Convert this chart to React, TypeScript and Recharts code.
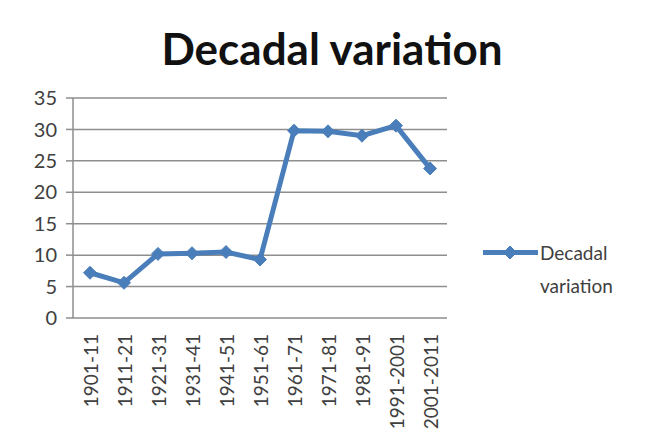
import { LineChart, Line, XAxis, YAxis, CartesianGrid, Legend } from 'recharts'

const periods = [
    '1901-11',
    '1911-21',
    '1921-31',
    '1931-41',
    '1941-51',
    '1951-61',
    '1961-71',
    '1971-81',
    '1981-91',
    '1991-2001',
    '2001-2011'
]
const variation = [7.2, 5.6, 10.2, 10.3, 10.5, 9.3, 29.8, 29.7, 29.0, 30.6, 23.8]
const yTicks = [0, 5, 10, 15, 20, 25, 30, 35]
const edgeTicks = [0, 1, 2, 3, 4, 5, 6, 7, 8, 9, 10, 11]

const data = periods.map((period, i) => ({ period, variation: variation[i] }))

const BLUE = '#4a7ebb'
const GRID = '#8e8e8e'
const TEXT = '#404040'
const FONT = 'Lato, sans-serif'

const Diamond = ({ cx, cy }: { cx?: number; cy?: number }) => {
    if (cx == null || cy == null) return null
    const r = 6.5
    return (
        <polygon
            points={`${cx},${cy - r} ${cx + r},${cy} ${cx},${cy + r} ${cx - r},${cy}`}
            fill={BLUE}
            stroke={BLUE}
            strokeWidth={1}
        />
    )
}

const RotatedTick = ({ x, y, payload }: any) => (
    <text
        x={x}
        y={y}
        transform={`rotate(-90 ${x} ${y})`}
        textAnchor='end'
        dominantBaseline='central'
        fontSize={19}
        fontFamily={FONT}
        fill={TEXT}
    >
        {payload.value}
    </text>
)

const LegendBox = () => (
    <div style={{ display: 'flex', alignItems: 'flex-start', fontFamily: FONT }}>
        <svg width={57} height={33}>
            <line x1={0} y1={16.5} x2={55} y2={16.5} stroke={BLUE} strokeWidth={5} />
            <Diamond cx={27} cy={16.5} />
        </svg>
        <div style={{ fontSize: 19, lineHeight: '33px', color: TEXT }}>
            Decadal
            <br />
            variation
        </div>
    </div>
)

export default function App() {
    return (
        <div
            style={{
                position: 'absolute',
                left: 0,
                top: 0,
                width: 646,
                height: 448,
                background: '#fff',
                fontFamily: FONT
            }}
        >
            <div
                style={{
                    position: 'absolute',
                    left: 0,
                    top: 26,
                    width: 664,
                    textAlign: 'center',
                    fontSize: 44,
                    lineHeight: '44px',
                    fontWeight: 700,
                    color: '#111'
                }}
            >
                Decadal variation
            </div>
            <LineChart
                width={646}
                height={448}
                data={data}
                margin={{ top: 98, right: 39, bottom: 0, left: 0 }}
            >
                <CartesianGrid vertical={false} stroke={GRID} strokeWidth={1.5} />
                <XAxis
                    xAxisId='edges'
                    type='number'
                    domain={[0, 11]}
                    allowDataOverflow
                    ticks={edgeTicks}
                    tickFormatter={() => ''}
                    height={0}
                    tickSize={6}
                    stroke={GRID}
                    strokeWidth={1.5}
                />
                <XAxis
                    dataKey='period'
                    type='category'
                    scale='band'
                    interval={0}
                    axisLine={false}
                    tickLine={false}
                    tickSize={0}
                    tickMargin={16}
                    height={130}
                    tick={<RotatedTick />}
                />
                <YAxis
                    domain={[0, 35]}
                    ticks={yTicks}
                    width={73}
                    tickSize={7}
                    tickMargin={9}
                    stroke={GRID}
                    strokeWidth={1.5}
                    tick={{ fill: TEXT, fontSize: 20, fontFamily: FONT }}
                />
                <Legend
                    layout='horizontal'
                    align='right'
                    verticalAlign='middle'
                    content={<LegendBox />}
                    wrapperStyle={{
                        left: 483,
                        top: 236,
                        right: 'auto',
                        bottom: 'auto',
                        width: 160
                    }}
                />
                <Line
                    type='linear'
                    dataKey='variation'
                    name='Decadal variation'
                    stroke={BLUE}
                    strokeWidth={5}
                    dot={<Diamond />}
                    activeDot={false}
                    isAnimationActive={false}
                />
            </LineChart>
        </div>
    )
}
